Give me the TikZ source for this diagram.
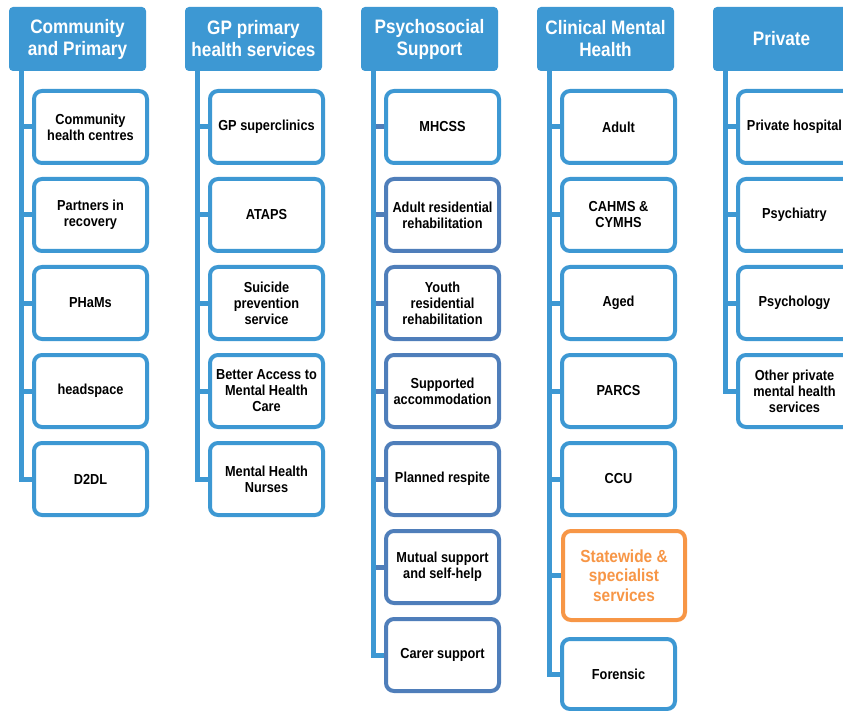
\documentclass[tikz,border=0pt]{standalone}
\usepackage{fontspec}
\setmainfont[FakeStretch=0.88]{Liberation Sans}
\definecolor{hblue}{RGB}{61,152,211}
\definecolor{dblue}{RGB}{79,126,186}
\definecolor{orng}{RGB}{247,150,70}
\tikzset{
  hdr/.style={fill=hblue, rounded corners=4pt, minimum width=137pt, minimum height=64pt,
    inner sep=0pt, text=white, font=\fontsize{19.5}{22}\selectfont\bfseries, align=center},
  itembox/.style={draw=hblue, line width=4pt, fill=white, rounded corners=8pt,
    minimum width=113pt, minimum height=72pt, inner sep=0pt,
    font=\fontsize{14.5}{16}\selectfont\bfseries, align=center},
  darkbox/.style={itembox, draw=dblue},
  hotbox/.style={itembox, draw=orng, text=orng, minimum width=122pt, minimum height=89pt,
    font=\fontsize{17.5}{19.5}\selectfont\bfseries},
  trunk/.style={draw=hblue, line width=5pt},
  stub/.style={draw=hblue, line width=5pt},
  darkstub/.style={draw=dblue, line width=5pt},
}
\begin{document}
\begin{tikzpicture}[x=1pt,y=-1pt]
\useasboundingbox (0,0) rectangle (843,711);
\clip (0,0) rectangle (843,711);
% headers
\node[hdr] (h1) at (77.5,39) {Community\\and Primary};
\node[hdr] (h2) at (253.5,39) {GP primary\\health services};
\node[hdr] (h3) at (429.5,39) {Psychosocial\\Support};
\node[hdr] (h4) at (605.5,39) {Clinical Mental\\Health};
\node[hdr] (h5) at (781.5,39) {Private};
% trunk tops
\coordinate (t1) at (21,71);
\coordinate (t2) at (197,71);
\coordinate (t3) at (373,71);
\coordinate (t4) at (549,71);
\coordinate (t5) at (725,71);
% column 1
\node[itembox] (a1) at (90.5,127) {Community\\health centres};
\node[itembox] (a2) at (90.5,215) {Partners in\\recovery};
\node[itembox] (a3) at (90.5,303) {PHaMs};
\node[itembox] (a4) at (90.5,391) {headspace};
\node[itembox] (a5) at (90.5,479) {D2DL};
% column 2
\node[itembox] (b1) at (266.5,127) {GP superclinics};
\node[itembox] (b2) at (266.5,215) {ATAPS};
\node[itembox] (b3) at (266.5,303) {Suicide\\prevention\\service};
\node[itembox] (b4) at (266.5,391) {Better Access to\\Mental Health\\Care};
\node[itembox] (b5) at (266.5,479) {Mental Health\\Nurses};
% column 3
\node[itembox] (c1) at (442.5,127) {MHCSS};
\node[darkbox] (c2) at (442.5,215) {Adult residential\\rehabilitation};
\node[darkbox] (c3) at (442.5,303) {Youth\\residential\\rehabilitation};
\node[darkbox] (c4) at (442.5,391) {Supported\\accommodation};
\node[darkbox] (c5) at (442.5,479) {Planned respite};
\node[darkbox] (c6) at (442.5,567) {Mutual support\\and self-help};
\node[darkbox] (c7) at (442.5,655) {Carer support};
% column 4
\node[itembox] (d1) at (618.5,127) {Adult};
\node[itembox] (d2) at (618.5,215) {CAHMS \&\\CYMHS};
\node[itembox] (d3) at (618.5,303) {Aged};
\node[itembox] (d4) at (618.5,391) {PARCS};
\node[itembox] (d5) at (618.5,479) {CCU};
\node[hotbox] (d6) at (624,575.5) {Statewide \&\\specialist\\services};
\node[itembox, minimum height=70pt] (d7) at (618.5,674) {Forensic};
% column 5
\node[itembox] (e1) at (794.5,127) {Private hospital};
\node[itembox] (e2) at (794.5,215) {Psychiatry};
\node[itembox] (e3) at (794.5,303) {Psychology};
\node[itembox] (e4) at (794.5,391) {Other private\\mental health\\services};
% stubs
\foreach \n in {a1,a2,a3,a4} \draw[stub] (t1 |- \n.west) -- (\n.west);
\foreach \n in {b1,b2,b3,b4} \draw[stub] (t2 |- \n.west) -- (\n.west);
\foreach \n in {c1,c2,c3,c4,c5,c6} \draw[darkstub] (t3 |- \n.west) -- (\n.west);
\foreach \n in {d1,d2,d3,d4,d5,d6} \draw[stub] (t4 |- \n.west) -- (\n.west);
\foreach \n in {e1,e2,e3} \draw[stub] (t5 |- \n.west) -- (\n.west);
% trunks
\draw[trunk] (t1) |- (a5.west);
\draw[trunk] (t2) |- (b5.west);
\draw[trunk] (t3) |- (c7.west);
\draw[trunk] (t4) |- (d7.west);
\draw[trunk] (t5) |- (e4.west);
\end{tikzpicture}
\end{document}
